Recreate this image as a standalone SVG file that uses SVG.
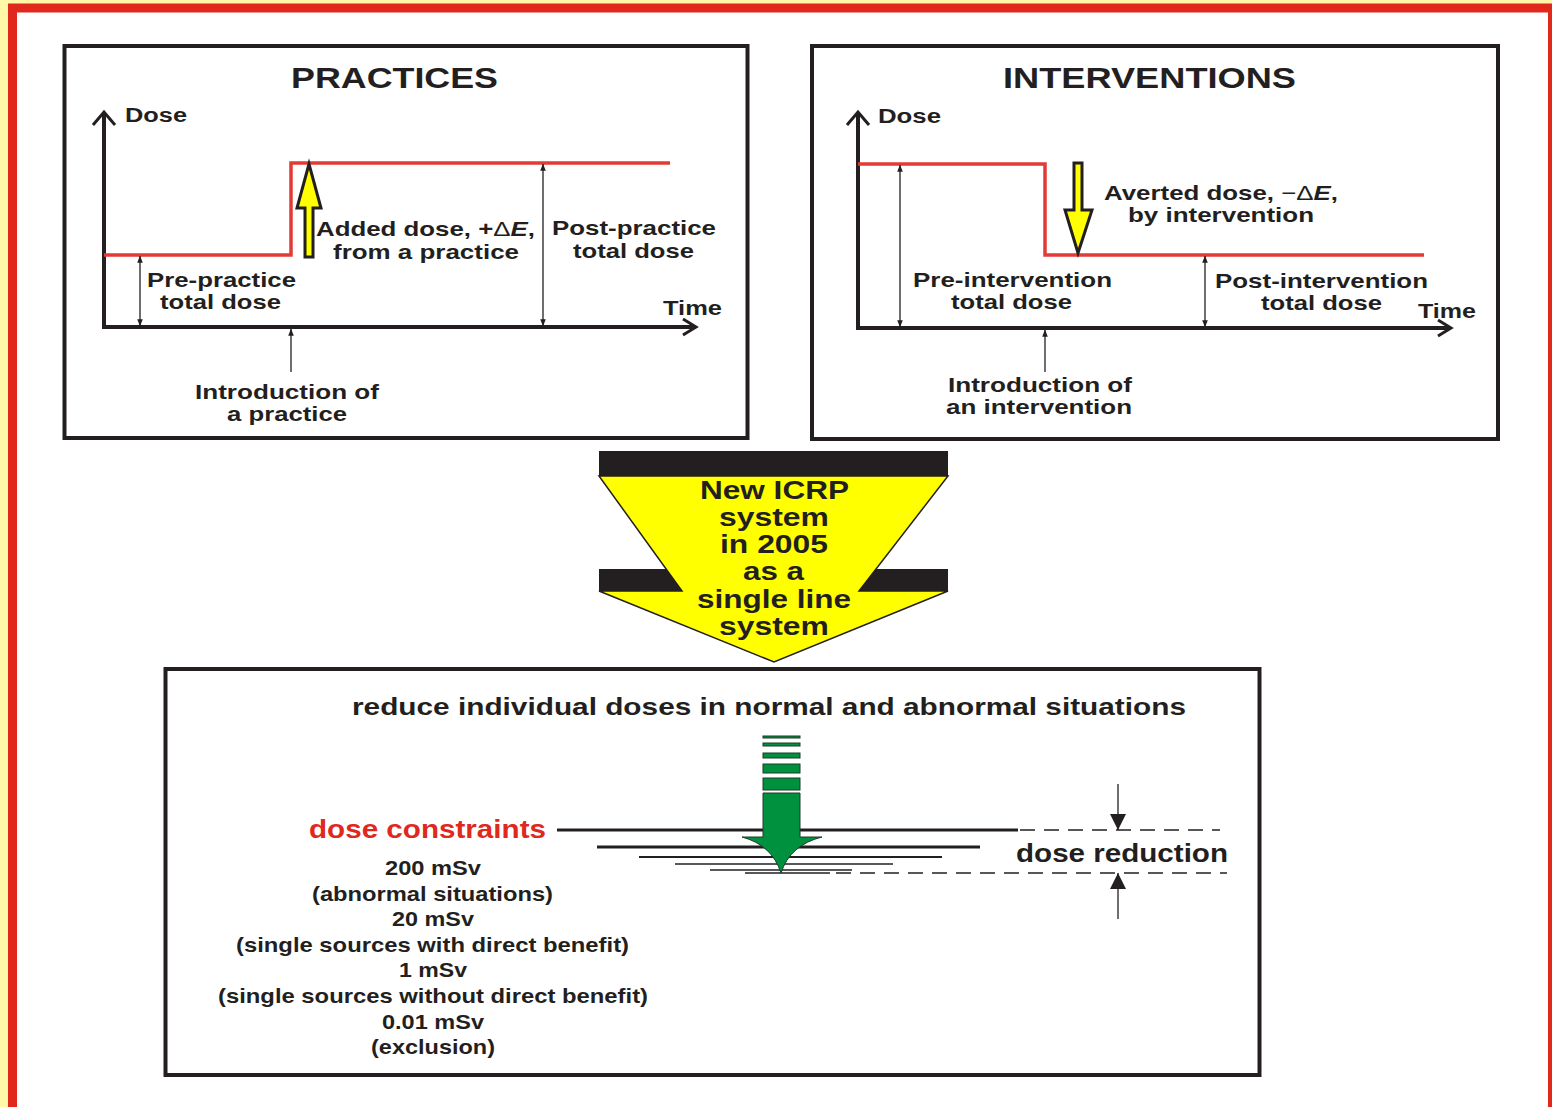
<svg xmlns="http://www.w3.org/2000/svg" width="1552" height="1107" viewBox="0 0 1552 1107">
<defs>
<style>
.t{font-family:"Liberation Sans",Arial,sans-serif;font-weight:bold;fill:#231f20}
.s20{font-size:21px}.s19{font-size:20px}.s28{font-size:29px}.s25{font-size:26px}.s23{font-size:24px}
.box{fill:#fff;stroke:#231f20;stroke-width:4}
.axis{fill:none;stroke:#231f20;stroke-width:4}
.chev{fill:none;stroke:#231f20;stroke-width:3}
.red{fill:none;stroke:#e23a34;stroke-width:3.5}
.dim{fill:none;stroke:#231f20;stroke-width:1.3}
.yel{fill:#ffff00;stroke:#231f20;stroke-width:3}
.grn{fill:#00913f;stroke:#1f3b2b;stroke-width:1}
.hl{stroke:#231f20;fill:none}
.dash{stroke:#231f20;stroke-width:1.3;stroke-dasharray:15 9;fill:none}
</style>
<marker id="ah" viewBox="0 0 10 10" refX="9.5" refY="5" markerWidth="7" markerHeight="7" markerUnits="userSpaceOnUse" orient="auto-start-reverse">
<path d="M0,1 L10,5 L0,9 Z" fill="#231f20"/>
</marker>
<marker id="ahb" viewBox="0 0 10 10" refX="10" refY="5" markerWidth="20" markerHeight="16" markerUnits="userSpaceOnUse" orient="auto">
<path d="M0,0 L10,5 L0,10 Z" fill="#231f20"/>
</marker>
</defs>
<rect x="0" y="0" width="1552" height="1107" fill="#fff8a8"/>
<rect x="12.5" y="8" width="1540" height="1120" fill="#fff" stroke="#e0281c" stroke-width="9"/>

<g id="practices">
<rect class="box" x="64.5" y="46" width="683" height="392"/>
<text class="t s28" x="291" y="88" textLength="207" lengthAdjust="spacingAndGlyphs">PRACTICES</text>
<text class="t s19" x="125" y="122" textLength="62" lengthAdjust="spacingAndGlyphs">Dose</text>
<polyline class="axis" points="104,113 104,327 695,327"/>
<polyline class="chev" points="93,125 104,112 115,125"/>
<polyline class="chev" points="683,319 696,327 683,335"/>
<polyline class="red" points="104,255 291,255 291,163 670,163"/>
<path class="yel" d="M305,257 V208 H297 L309,164 L321,208 H313 V257 Z"/>
<line class="dim" x1="140" y1="256" x2="140" y2="326" marker-start="url(#ah)" marker-end="url(#ah)"/>
<line class="dim" x1="543" y1="164" x2="543" y2="326" marker-start="url(#ah)" marker-end="url(#ah)"/>
<line class="dim" x1="291" y1="372" x2="291" y2="329" marker-end="url(#ah)"/>
<text class="t s20" x="316" y="236" textLength="219" lengthAdjust="spacingAndGlyphs">Added dose, +<tspan font-weight="normal">Δ</tspan><tspan font-style="italic">E</tspan>,</text>
<text class="t s20" x="333" y="259" textLength="186" lengthAdjust="spacingAndGlyphs">from a practice</text>
<text class="t s20" x="552" y="235" textLength="164" lengthAdjust="spacingAndGlyphs">Post-practice</text>
<text class="t s20" x="573" y="258" textLength="121" lengthAdjust="spacingAndGlyphs">total dose</text>
<text class="t s20" x="147" y="287" textLength="149" lengthAdjust="spacingAndGlyphs">Pre-practice</text>
<text class="t s20" x="160" y="309" textLength="121" lengthAdjust="spacingAndGlyphs">total dose</text>
<text class="t s20" x="663" y="315" textLength="59" lengthAdjust="spacingAndGlyphs">Time</text>
<text class="t s20" x="195" y="399" textLength="184" lengthAdjust="spacingAndGlyphs">Introduction of</text>
<text class="t s20" x="227" y="421" textLength="120" lengthAdjust="spacingAndGlyphs">a practice</text>
</g>

<g id="interventions">
<rect class="box" x="812" y="46" width="686" height="393"/>
<text class="t s28" x="1003" y="88" textLength="293" lengthAdjust="spacingAndGlyphs">INTERVENTIONS</text>
<text class="t s19" x="878" y="123" textLength="63" lengthAdjust="spacingAndGlyphs">Dose</text>
<polyline class="axis" points="858,113 858,328 1450,328"/>
<polyline class="chev" points="847,125 858,112 869,125"/>
<polyline class="chev" points="1438,320 1451,328 1438,336"/>
<polyline class="red" points="858,164 1045,164 1045,255 1424,255"/>
<path class="yel" d="M1074,163 H1082 V210 H1092 L1078,253 L1065,210 H1074 Z"/>
<line class="dim" x1="900" y1="165" x2="900" y2="327" marker-start="url(#ah)" marker-end="url(#ah)"/>
<line class="dim" x1="1205" y1="256" x2="1205" y2="327" marker-start="url(#ah)" marker-end="url(#ah)"/>
<line class="dim" x1="1045" y1="372" x2="1045" y2="330" marker-end="url(#ah)"/>
<text class="t s20" x="1104" y="200" textLength="234" lengthAdjust="spacingAndGlyphs">Averted dose, <tspan font-weight="normal">−Δ</tspan><tspan font-style="italic">E</tspan>,</text>
<text class="t s20" x="1128" y="222" textLength="186" lengthAdjust="spacingAndGlyphs">by intervention</text>
<text class="t s20" x="913" y="287" textLength="199" lengthAdjust="spacingAndGlyphs">Pre-intervention</text>
<text class="t s20" x="951" y="309" textLength="121" lengthAdjust="spacingAndGlyphs">total dose</text>
<text class="t s20" x="1215" y="288" textLength="213" lengthAdjust="spacingAndGlyphs">Post-intervention</text>
<text class="t s20" x="1261" y="310" textLength="121" lengthAdjust="spacingAndGlyphs">total dose</text>
<text class="t s20" x="1418" y="318" textLength="58" lengthAdjust="spacingAndGlyphs">Time</text>
<text class="t s20" x="948" y="392" textLength="184" lengthAdjust="spacingAndGlyphs">Introduction of</text>
<text class="t s20" x="946" y="414" textLength="186" lengthAdjust="spacingAndGlyphs">an intervention</text>
</g>

<g id="transition">
<rect x="599" y="451" width="349" height="25" fill="#231f20"/>
<polygon points="599,569 667,569 682,591 599,591" fill="#231f20"/>
<polygon points="875,569 948,569 948,591 859,591" fill="#231f20"/>
<polygon points="599,476 948,476 859,591 948,591 774,662 599,591 682,591" fill="#ffff00" stroke="#231f20" stroke-width="1.5" stroke-linejoin="miter"/>
<text class="t s25" x="700" y="499" textLength="149" lengthAdjust="spacingAndGlyphs">New ICRP</text>
<text class="t s25" x="719" y="526" textLength="110" lengthAdjust="spacingAndGlyphs">system</text>
<text class="t s25" x="720" y="553" textLength="108" lengthAdjust="spacingAndGlyphs">in 2005</text>
<text class="t s25" x="743" y="580" textLength="61" lengthAdjust="spacingAndGlyphs">as a</text>
<text class="t s25" x="697" y="608" textLength="154" lengthAdjust="spacingAndGlyphs">single line</text>
<text class="t s25" x="719" y="635" textLength="110" lengthAdjust="spacingAndGlyphs">system</text>
</g>

<g id="single-system">
<rect class="box" x="165.5" y="669" width="1094" height="406"/>
<text class="t s23" x="352" y="715" textLength="834" lengthAdjust="spacingAndGlyphs">reduce individual doses in normal and abnormal situations</text>
<line class="hl" x1="557" y1="830" x2="1018" y2="830" stroke-width="3"/>
<line class="hl" x1="597" y1="847" x2="980" y2="847" stroke-width="3"/>
<line class="hl" x1="639" y1="857" x2="942" y2="857" stroke-width="2"/>
<line class="hl" x1="675" y1="864" x2="893" y2="864" stroke-width="1.5"/>
<line class="hl" x1="710" y1="870" x2="852" y2="870" stroke-width="1.5"/>
<line class="hl" x1="745" y1="873" x2="830" y2="873" stroke-width="1.3"/>
<line class="dash" x1="1020" y1="830" x2="1220" y2="830"/>
<line class="dash" x1="836" y1="873" x2="1227" y2="873"/>
<rect class="grn" x="763" y="736" width="37" height="2"/>
<rect class="grn" x="763" y="743" width="37" height="3"/>
<rect class="grn" x="763" y="753" width="37" height="5"/>
<rect class="grn" x="763" y="764" width="37" height="9"/>
<rect class="grn" x="763" y="778" width="37" height="12"/>
<path class="grn" d="M763,793 H800 V837 H822 Q790,845 781,873 Q772,845 742,837 H763 Z"/>
<line x1="1118" y1="784" x2="1118" y2="830" stroke="#231f20" stroke-width="1.3" marker-end="url(#ahb)"/>
<line x1="1118" y1="919" x2="1118" y2="873" stroke="#231f20" stroke-width="1.3" marker-end="url(#ahb)"/>
<text class="t s25" x="1016" y="862" textLength="212" lengthAdjust="spacingAndGlyphs">dose reduction</text>
<text class="t s25" x="309" y="838" textLength="237" lengthAdjust="spacingAndGlyphs" style="fill:#e0281c">dose constraints</text>
<text class="t s20" x="385" y="875" textLength="96" lengthAdjust="spacingAndGlyphs">200 mSv</text>
<text class="t s20" x="312" y="901" textLength="241" lengthAdjust="spacingAndGlyphs">(abnormal situations)</text>
<text class="t s20" x="392" y="926" textLength="82" lengthAdjust="spacingAndGlyphs">20 mSv</text>
<text class="t s20" x="236" y="952" textLength="393" lengthAdjust="spacingAndGlyphs">(single sources with direct benefit)</text>
<text class="t s20" x="399" y="977" textLength="68" lengthAdjust="spacingAndGlyphs">1 mSv</text>
<text class="t s20" x="218" y="1003" textLength="430" lengthAdjust="spacingAndGlyphs">(single sources without direct benefit)</text>
<text class="t s20" x="382" y="1029" textLength="102" lengthAdjust="spacingAndGlyphs">0.01 mSv</text>
<text class="t s20" x="371" y="1054" textLength="124" lengthAdjust="spacingAndGlyphs">(exclusion)</text>
</g>
</svg>
